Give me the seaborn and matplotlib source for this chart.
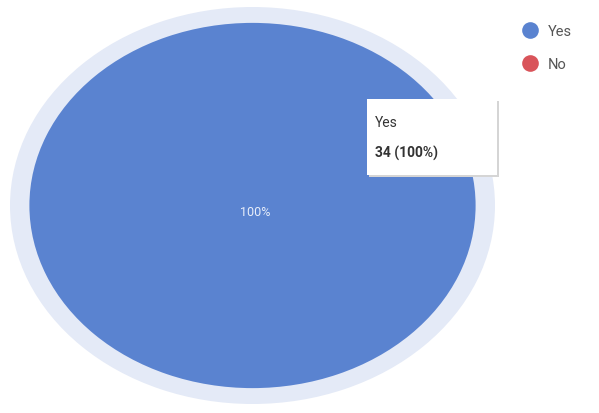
import matplotlib
matplotlib.use("Agg")
import matplotlib.pyplot as plt
import seaborn as sns
from matplotlib.lines import Line2D
from matplotlib.patches import Rectangle

categories = ["Yes", "No"]
counts = [34, 0]
colors = ["#5a83d0", "#d9545a"]
ring_color = "#e4eaf7"

sns.set_style("white")
plt.rcParams['font.family'] = ['Roboto', 'DejaVu Sans']

fig = plt.figure(figsize=(5.99, 4.14), dpi=100)
ax = fig.add_axes([10/599, 9/414, 485/599, 397/414])

# hover ring
ax.pie([sum(counts)], colors=[ring_color], radius=1.0, startangle=90,
       wedgeprops=dict(linewidth=0), normalize=True)
wedges, _ = ax.pie(counts, colors=colors, radius=0.92, startangle=90,
                   counterclock=False, wedgeprops=dict(linewidth=0), normalize=True)
ax.set_aspect("auto")
ax.set_xlim(-1, 1)
ax.set_ylim(-1, 1)
ax.axis("off")

total = sum(counts)
ax.text(0.01, -0.03, f"{counts[0]/total*100:.0f}%", ha="center", va="center",
        color="#e8eefa", fontsize=9)

# tooltip
fig.patches.append(Rectangle((369/599, 1 - 178/414), 130/599, 76/414,
                             transform=fig.transFigure, facecolor="#d5d5d5",
                             edgecolor="none", zorder=4))
fig.patches.append(Rectangle((367/599, 1 - 176/414), 130/599, 76/414,
                             transform=fig.transFigure, facecolor="white",
                             edgecolor="none", zorder=5))
fig.text(375/599, 1 - 123/414, categories[0], fontsize=10, color="#333333",
         va="center", ha="left", zorder=6)
fig.text(375/599, 1 - 153/414, f"{counts[0]} ({counts[0]/total*100:.0f}%)",
         fontsize=10, color="#333333", fontweight="bold", va="center",
         ha="left", zorder=6)

# legend
handles = [Line2D([0], [0], marker="o", linestyle="none", markersize=12,
                  markerfacecolor=c, markeredgecolor="none") for c in colors]
fig.legend(handles, categories, loc="upper left",
           bbox_to_anchor=(508/599, 1 - 12/414), frameon=False,
           fontsize=10.5, labelcolor="#555555", handletextpad=0.6,
           labelspacing=1.3, handlelength=1.2)

fig.savefig("out.png", dpi=100)
